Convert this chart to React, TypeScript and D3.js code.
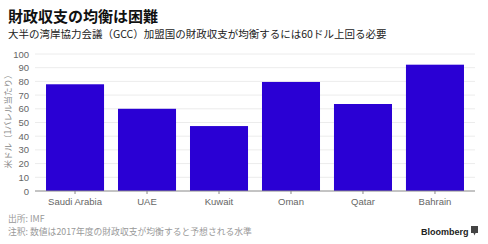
import React from "react";
import * as d3 from "d3";

const categories = ["Saudi Arabia", "UAE", "Kuwait", "Oman", "Qatar", "Bahrain"];
const values = [77.9, 60, 47.4, 79.6, 63.5, 92.2];
const yTicks = [0, 10, 20, 30, 40, 50, 60, 70, 80, 90, 100];

const W = 488, H = 244;
const FONT = "'Liberation Sans', Arial, 'Noto Sans CJK JP', sans-serif";
const JP = "'Noto Sans CJK JP', sans-serif";

export default function App() {
  const x = d3.scaleBand<string>().domain(categories).range([35, 475]).paddingInner(0.194).paddingOuter(0.153);
  const y = d3.scaleLinear().domain([0, 100]).range([191, 54]);
  return (
    <svg width={W} height={H} style={{ position: "absolute", left: 0, top: 0, background: "#fff" }}>
      <text x={8} y={22} fontFamily={JP} fontWeight={700} fontSize={15} fill="#111">財政収支の均衡は困難</text>
      <text x={8} y={38} fontFamily={JP} fontSize={10.5} fill="#222">大半の湾岸協力会議（GCC）加盟国の財政収支が均衡するには60ドル上回る必要</text>
      {yTicks.map((t) => (
        <g key={t}>
          {t > 0 && <line x1={35} x2={475} y1={y(t)} y2={y(t)} stroke="#ececec" strokeWidth={1} />}
          <text x={29} y={y(t) + 3.5} textAnchor="end" fontFamily={FONT} fontSize={9.5} fill="#666">{t}</text>
        </g>
      ))}
      <text transform={`translate(11,${y(50) - 3}) rotate(-90)`} textAnchor="middle" fontFamily={JP} fontSize={8.5} fill="#888">米ドル（1バレル当たり）</text>
      {categories.map((c, i) => (
        <rect key={c} x={x(c)} y={y(values[i])} width={x.bandwidth()} height={y(0) - y(values[i])} fill="#2a00d4" />
      ))}
      <line x1={35} x2={475} y1={y(0)} y2={y(0)} stroke="#888" strokeWidth={1} />
      {categories.map((c) => (
        <g key={c}>
          <line x1={x(c)! + x.bandwidth() / 2} x2={x(c)! + x.bandwidth() / 2} y1={191} y2={194} stroke="#888" />
          <text x={x(c)! + x.bandwidth() / 2} y={205} textAnchor="middle" fontFamily={FONT} fontSize={9.5} fill="#666">{c}</text>
        </g>
      ))}
      <text x={8} y={222} fontFamily={JP} fontSize={8.8} fill="#999">出所: IMF</text>
      <text x={8} y={235} fontFamily={JP} fontSize={8.8} fill="#999">注釈: 数値は2017年度の財政収支が均衡すると予想される水準</text>
      <text x={421} y={235} fontFamily={FONT} fontWeight={700} fontSize={9} fill="#222">Bloomberg</text>
      <rect x={471} y={226} width={7} height={7} fill="#444" />
      <path d="M473.5 233 L474.5 235.5 L475.5 233 Z" fill="#444" />
    </svg>
  );
}
